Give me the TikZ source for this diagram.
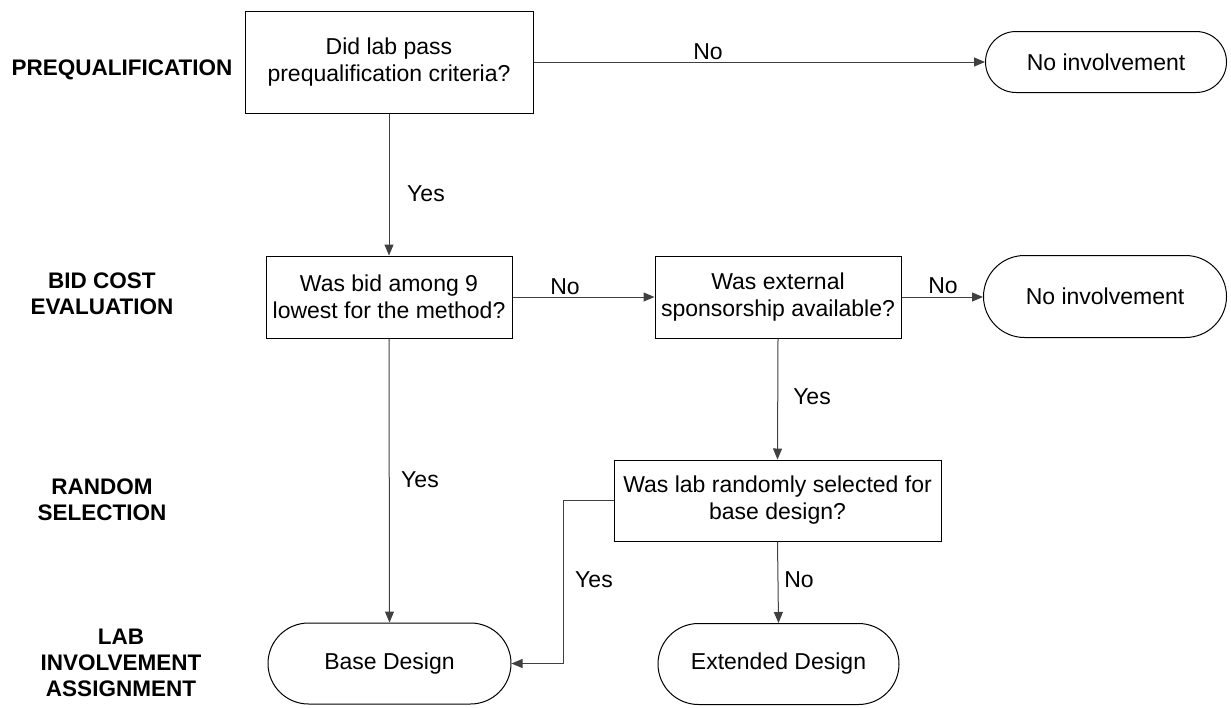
\documentclass[tikz,border=0pt]{standalone}
\usepackage{fontspec}
\setmainfont{Liberation Sans}
\usetikzlibrary{arrows.meta,shapes.misc}
\tikzset{
  txt/.style={font=\fontsize{23}{27}\selectfont},
  lbl/.style={font=\fontsize{22.5}{26}\selectfont\bfseries, align=center, inner sep=0pt},
  qbox/.style={draw, line width=1pt, rectangle, align=center, txt, inner sep=2pt},
  term/.style={draw, line width=1pt, rounded rectangle, align=center, txt, inner sep=2pt},
  conn/.style={line width=1pt, draw=black!75, -{Triangle[length=11pt,width=9pt]}},
  elab/.style={txt, inner sep=0pt}
}
\begin{document}
\begin{tikzpicture}[x=1pt,y=-1pt]
\useasboundingbox (0,0) rectangle (1231,707);
% left labels
\node[lbl] (l1) at (122,70) {PREQUALIFICATION};
\node[lbl] (l2) at (102,294) {BID COST\\EVALUATION};
\node[lbl] (l3) at (102,500) {RANDOM\\SELECTION};
\node[lbl] (l4) at (121,663) {LAB\\INVOLVEMENT\\ASSIGNMENT};
% nodes
\node[qbox, minimum width=288pt, minimum height=102pt] (b1) at (389,62) {Did lab pass\\prequalification criteria?};
\node[term, minimum width=245pt, minimum height=61pt] (t1) at (1106,62) {No involvement};
\node[qbox, minimum width=246pt, minimum height=82pt] (b2) at (389,297) {Was bid among 9\\lowest for the method?};
\node[qbox, minimum width=246pt, minimum height=82pt] (b3) at (778,297) {Was external\\sponsorship available?};
\node[term, minimum width=247pt, minimum height=82pt] (t2) at (1105,296.5) {No involvement};
\node[qbox, minimum width=327pt, minimum height=81pt] (b4) at (777.5,500.5) {Was lab randomly selected for\\base design?};
\node[term, minimum width=247pt, minimum height=81pt] (base) at (389.5,663.5) {Base Design};
\node[term, minimum width=245pt, minimum height=81pt] (ext) at (778.5,664) {Extended Design};
\coordinate (c1) at (563,500.5);
\coordinate (c2) at (563,663.5);
% connectors
\draw[conn] (b1.east) -- (t1.west);
\draw[conn] (b1.south) -- (b2.north);
\draw[conn] (b2.east) -- (b3.west);
\draw[conn] (b3.east) -- (t2.west |- b3.east);
\draw[conn] (b3.south) -- (b4.north);
\draw[conn] (b2.south) -- (base.north);
\draw[conn] (b4.south) -- (ext.north);
\draw[conn] (b4.west) -- (c1) -- (c2) -- (base.east);
% edge labels
\node[elab] (n1) at (708,52) {No};
\node[elab] (y1) at (426,194) {Yes};
\node[elab] (n2) at (565,287) {No};
\node[elab] (n3) at (943,286) {No};
\node[elab] (y2) at (812,397) {Yes};
\node[elab] (y3) at (420,480) {Yes};
\node[elab] (y4) at (594,580) {Yes};
\node[elab] (n4) at (799,580) {No};
\end{tikzpicture}
\end{document}
